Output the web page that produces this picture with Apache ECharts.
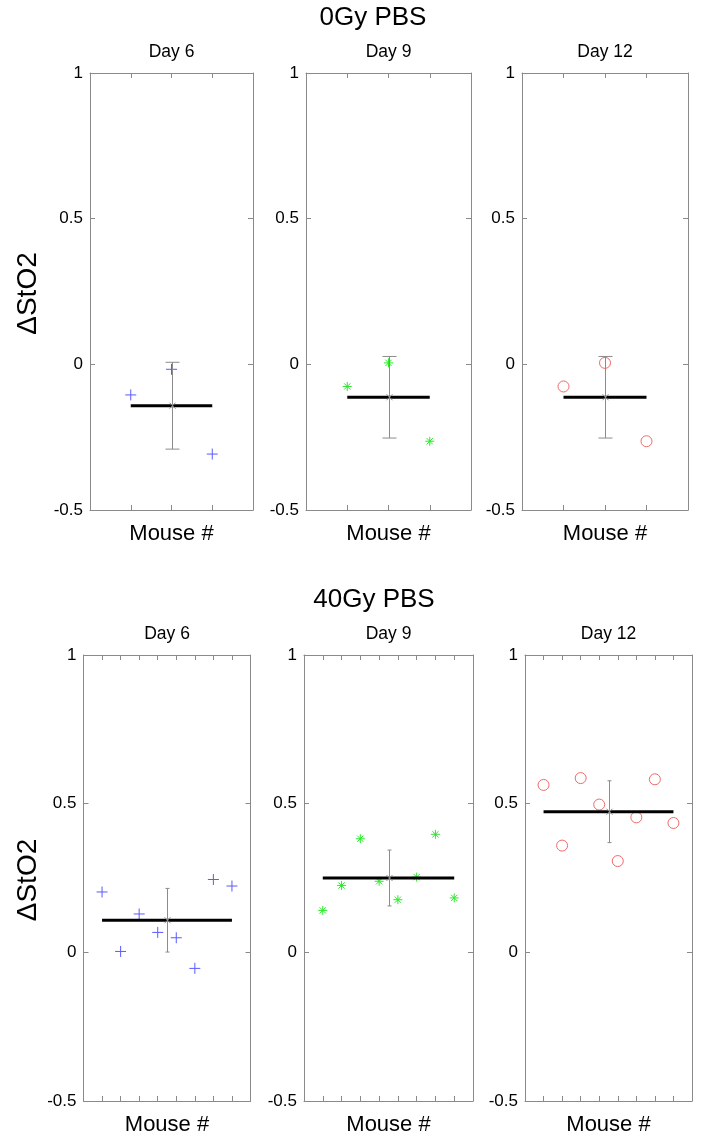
<!DOCTYPE html>
<html>
<head>
<meta charset="utf-8">
<script src="https://cdn.jsdelivr.net/npm/echarts@6/dist/echarts.min.js"></script>
<style>html,body{margin:0;padding:0;background:#fff}#c{width:703px;height:1141px}</style>
</head>
<body>
<div id="c"></div>
<script>
// ---- data ----
const groups = ['0Gy PBS', '40Gy PBS'];
const days = ['Day 6', 'Day 9', 'Day 12'];
const yTicks = [-0.5, 0, 0.5, 1];
const yAxisTitle = 'ΔStO2';
const xAxisTitle = 'Mouse #';

const ctrlDay6 = [-0.105, -0.017, -0.308];
const ctrlDay9 = [-0.076, 0.005, -0.264];
const ctrlDay12 = [-0.076, 0.005, -0.264];
const ctrlMeans = [-0.142, -0.113, -0.113];
const ctrlErrs = [0.149, 0.140, 0.140];

const irrDay6 = [0.203, 0.003, 0.129, 0.067, 0.049, -0.054, 0.245, 0.223];
const irrDay9 = [0.141, 0.225, 0.382, 0.239, 0.177, 0.253, 0.397, 0.183];
const irrDay12 = [0.563, 0.359, 0.586, 0.497, 0.307, 0.454, 0.582, 0.435];
const irrMeans = [0.108, 0.250, 0.473];
const irrErrs = [0.107, 0.094, 0.104];

// ---- styling / layout ----
const FONT = '"Liberation Sans", Arial, Helvetica, sans-serif';
const AXC = '#8a8a8a';
const ERRC = '#8c8c8c';
const panels = [
  {vals: ctrlDay6, mean: ctrlMeans[0], err: ctrlErrs[0], mk: 'plus', row: 0, col: 0, left: 90, top: 73, width: 163, height: 437},
  {vals: ctrlDay9, mean: ctrlMeans[1], err: ctrlErrs[1], mk: 'star', row: 0, col: 1, left: 306, top: 73, width: 165, height: 437},
  {vals: ctrlDay12, mean: ctrlMeans[2], err: ctrlErrs[2], mk: 'circle', row: 0, col: 2, left: 522, top: 73, width: 166, height: 437},
  {vals: irrDay6, mean: irrMeans[0], err: irrErrs[0], mk: 'plus', row: 1, col: 0, left: 83.5, top: 655, width: 167, height: 446},
  {vals: irrDay9, mean: irrMeans[1], err: irrErrs[1], mk: 'star', row: 1, col: 1, left: 304, top: 655, width: 169, height: 446},
  {vals: irrDay12, mean: irrMeans[2], err: irrErrs[2], mk: 'circle', row: 1, col: 2, left: 525, top: 655, width: 167, height: 446}
];
const markerStyle = {
  plus: {symbol: 'path://M0,5L10,5M5,0L5,10', size: 11, color: '#5a5aff'},
  star: {symbol: 'path://M0,5L10,5M5,0L5,10M1.5,1.5L8.5,8.5M1.5,8.5L8.5,1.5', size: 9, color: '#2ee82e'},
  circle: {symbol: 'circle', size: 11, color: '#f06a6a'}
};

const grid = [], xAxis = [], yAxis = [], series = [], graphic = [];

panels.forEach((p, i) => {
  const n = p.vals.length;
  grid.push({left: p.left, top: p.top, width: p.width, height: p.height, containLabel: false});
  const xCommon = {type: 'value', gridIndex: i, min: 0, max: n + 1, interval: 1,
    axisLine: {show: true, onZero: false, lineStyle: {color: AXC, width: 1}},
    axisTick: {show: true, inside: true, length: 5, lineStyle: {color: AXC}},
    axisLabel: {show: false}, splitLine: {show: false}};
  xAxis.push(Object.assign({}, xCommon, {position: 'bottom'}));
  xAxis.push(Object.assign({}, xCommon, {position: 'top'}));
  const yCommon = {type: 'value', gridIndex: i, min: yTicks[0], max: yTicks[yTicks.length - 1], interval: 0.5,
    axisLine: {show: true, onZero: false, lineStyle: {color: AXC, width: 1}},
    axisTick: {show: true, inside: true, length: 5, lineStyle: {color: AXC}},
    splitLine: {show: false}};
  yAxis.push(Object.assign({}, yCommon, {position: 'left',
    axisLabel: {show: true, margin: 7, color: '#000', fontSize: 17, fontFamily: FONT,
      formatter: v => String(v)}}));
  yAxis.push(Object.assign({}, yCommon, {position: 'right', axisLabel: {show: false}}));

  const ms = markerStyle[p.mk];
  const xi = 2 * i, yi = 2 * i;
  // data points
  series.push({type: 'scatter', xAxisIndex: xi, yAxisIndex: yi, symbol: ms.symbol, symbolSize: ms.size,
    itemStyle: {color: 'rgba(0,0,0,0)', borderColor: ms.color, borderWidth: 1, opacity: 1},
    emphasis: {disabled: true},
    data: p.vals.map((v, k) => [k + 1, v]), z: 3, silent: true});
  // mean line
  series.push({type: 'line', xAxisIndex: xi, yAxisIndex: yi, showSymbol: false, symbol: 'none',
    lineStyle: {color: '#000', width: 3}, data: [[1, p.mean], [n, p.mean]], z: 4, silent: true});
  // error bar
  const cap = p.row === 0 ? 7 : 2;
  series.push({type: 'custom', xAxisIndex: xi, yAxisIndex: yi, z: 5, silent: true,
    data: [[(n + 1) / 2, p.mean, p.err]], encode: {x: 0, y: 1},
    renderItem: (params, api) => {
      const x = api.value(0), m = api.value(1), e = api.value(2);
      const t = api.coord([x, m + e]);
      const b = api.coord([x, m - e]);
      const c = api.coord([x, m]);
      const st = {stroke: ERRC, lineWidth: 1};
      const cx = Math.round(t[0]) + 0.5;
      return {type: 'group', children: [
        {type: 'line', shape: {x1: cx, y1: t[1], x2: cx, y2: b[1]}, style: st},
        {type: 'line', shape: {x1: cx - cap, y1: t[1], x2: cx + cap, y2: t[1]}, style: st},
        {type: 'line', shape: {x1: cx - cap, y1: b[1], x2: cx + cap, y2: b[1]}, style: st},
        {type: 'line', shape: {x1: cx - 3, y1: c[1] - 3, x2: cx + 3, y2: c[1] + 3}, style: st},
        {type: 'line', shape: {x1: cx - 3, y1: c[1] + 3, x2: cx + 3, y2: c[1] - 3}, style: st}
      ]};
    }});

  const cxp = p.left + p.width / 2;
  graphic.push({type: 'text', x: cxp, y: p.top - 21, style: {text: days[p.col], font: '17.5px ' + FONT, fill: '#000', textAlign: 'center', textVerticalAlign: 'middle'}});
  graphic.push({type: 'text', x: cxp, y: p.top + p.height + 24, style: {text: xAxisTitle, font: '22px ' + FONT, fill: '#000', textAlign: 'center', textVerticalAlign: 'middle'}});
  if (p.col === 0) {
    graphic.push({type: 'text', x: 28, y: p.top + p.height / 2 + 2, rotation: Math.PI / 2,
      style: {text: yAxisTitle, font: '28px ' + FONT, fill: '#000', textAlign: 'center', textVerticalAlign: 'middle'}});
  }
});

graphic.push({type: 'text', x: 373, y: 18, style: {text: groups[0], font: '26px ' + FONT, fill: '#000', textAlign: 'center', textVerticalAlign: 'middle'}});
graphic.push({type: 'text', x: 374, y: 600, style: {text: groups[1], font: '26px ' + FONT, fill: '#000', textAlign: 'center', textVerticalAlign: 'middle'}});

const chart = echarts.init(document.getElementById('c'), null, {renderer: 'canvas'});
chart.setOption({animation: false, backgroundColor: '#fff', grid, xAxis, yAxis, series, graphic});
</script>
</body>
</html>
